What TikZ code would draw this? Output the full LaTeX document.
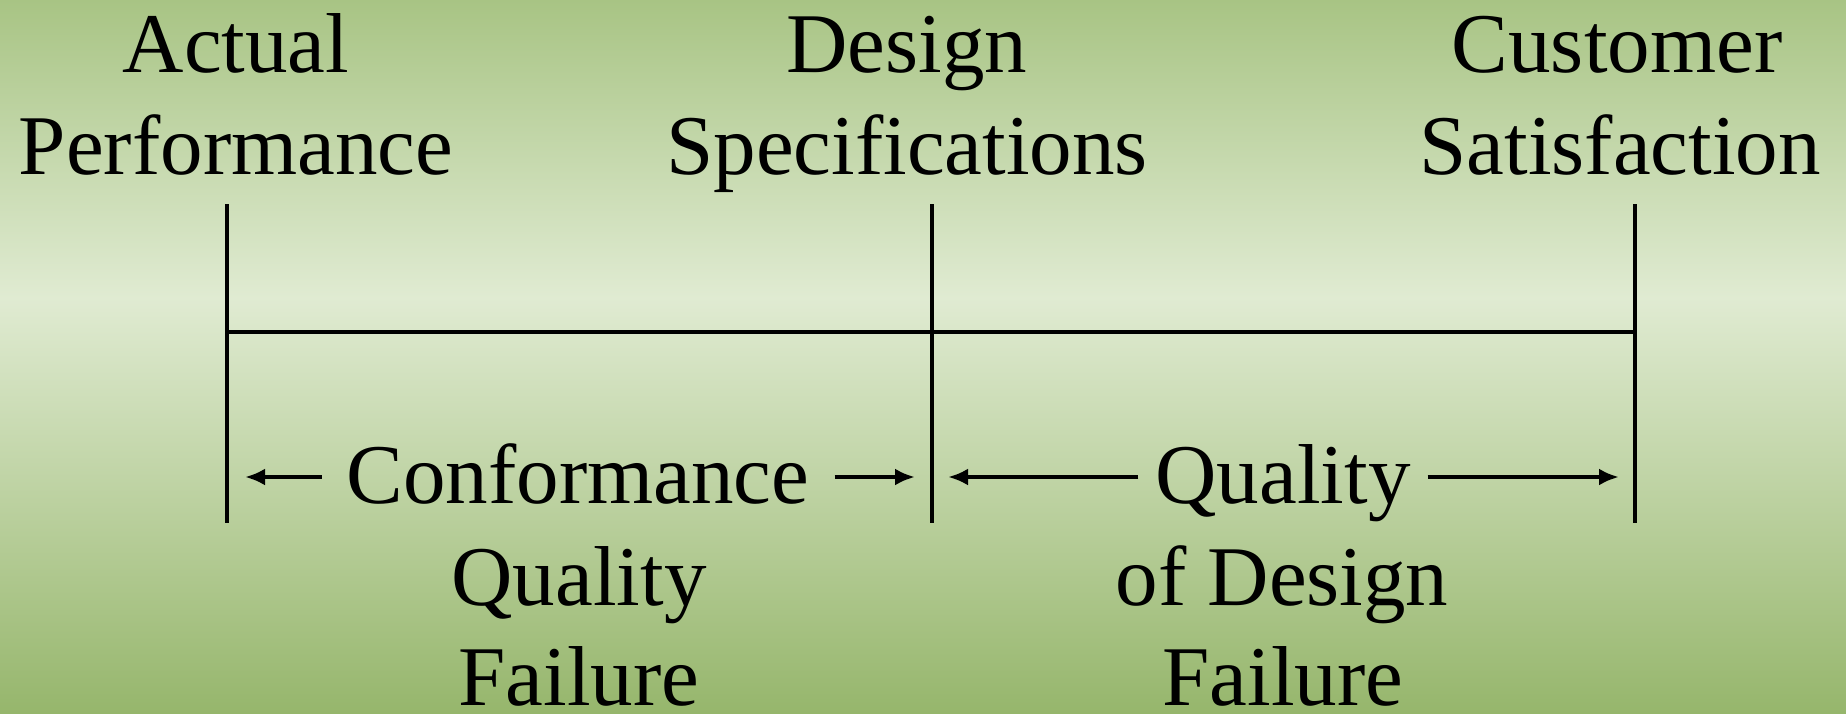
\documentclass[tikz,border=0pt]{standalone}
\usepackage{fontspec}
\setmainfont{Liberation Serif}
\usetikzlibrary{arrows.meta}
\definecolor{gTop}{RGB}{168,196,132}
\definecolor{gMid}{RGB}{224,235,210}
\definecolor{gBot}{RGB}{150,182,108}
\begin{document}
\begin{tikzpicture}[x=1pt,y=-1pt,
  lbl/.style={anchor=base, inner sep=0pt, font=\fontsize{85}{100}\selectfont},
  rule/.style={line width=3.6pt},
  arr/.style={line width=4pt,-{Latex[length=20pt,width=17pt]}}]
\useasboundingbox (0,0) rectangle (1846,713);
\shade[top color=gTop,bottom color=gMid] (0,0) rectangle (1846,298);
\shade[top color=gMid,bottom color=gBot] (0,297) rectangle (1846,713);
% top labels
\node[lbl] (act1) at (236,72) {Actual};
\node[lbl] (act2) at (236,174) {Performance};
\node[lbl] (des1) at (907,72) {Design};
\node[lbl] (des2) at (907,174) {Specifications};
\node[lbl] (cus1) at (1617,72) {Customer};
\node[lbl] (cus2) at (1620,174) {Satisfaction};
% rules
\coordinate (v1t) at (227,204); \coordinate (v1b) at (227,523);
\coordinate (v2t) at (932,204); \coordinate (v2b) at (932,523);
\coordinate (v3t) at (1635,204); \coordinate (v3b) at (1635,523);
\coordinate (hL) at (227,332); \coordinate (hR) at (1635,332);
\draw[rule] (v1t) -- (v1b);
\draw[rule] (v2t) -- (v2b);
\draw[rule] (v3t) -- (v3b);
\draw[rule,line width=4pt] (hL) -- (hR);
% bottom labels
\node[lbl, inner xsep=25pt] (conf) at (578,503) {Conformance};
\node[lbl, inner xsep=17pt] (qual) at (1283,503) {Quality};
\node[lbl] (cq1) at (579,605) {Quality};
\node[lbl] (cq2) at (579,705) {Failure};
\node[lbl] (qd1) at (1282,605) {of Design};
\node[lbl] (qd2) at (1283,705) {Failure};
% arrows
\coordinate (cL) at (245,477); \coordinate (cR) at (915,477);
\coordinate (qL) at (948,477); \coordinate (qR) at (1619,477);
\draw[arr] (conf.west |- cL) -- (cL);
\draw[arr] (conf.east |- cR) -- (cR);
\draw[arr] (qual.west |- qL) -- (qL);
\draw[arr] (qual.east |- qR) -- (qR);
\end{tikzpicture}
\end{document}
